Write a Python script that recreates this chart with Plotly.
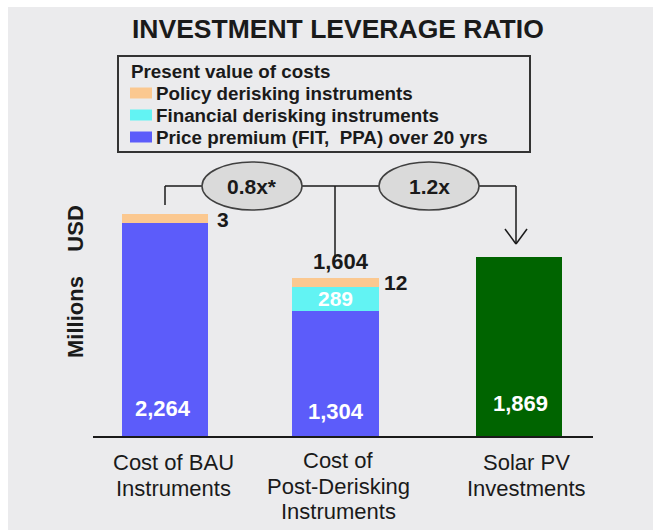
import plotly.graph_objects as go

# ---------------- data ----------------
categories = ["BAU", "Post-Derisking", "Solar PV"]
category_labels = ["Cost of BAU<br>Instruments",
                   "Cost of<br>Post-Derisking<br>Instruments",
                   "Solar PV<br>Investments"]
price_premium = [2264, 1304, None]
financial_derisking = [None, 289, None]
policy_derisking = [3, 12, None]
solar_pv_investments = [None, None, 1869]
post_derisking_total_label = "1,604"
leverage_ratios = ["0.8x*", "1.2x"]
series_names = ["Policy derisking instruments",
                "Financial derisking instruments",
                "Price premium (FIT,  PPA) over 20 yrs"]
legend_title = "Present value of costs"
chart_title = "INVESTMENT LEVERAGE RATIO"
y_title = "Millions\u00a0\u00a0\u00a0\u00a0USD"

# ---------------- style ----------------
W, H = 653, 530
PLOT_L, PLOT_R, PLOT_T, PLOT_B = 93, 593, 60, 436   # page pixels
ML, MR, MT, MB = PLOT_L, W - PLOT_R, PLOT_T, H - PLOT_B
PW, PH = PLOT_R - PLOT_L, PLOT_B - PLOT_T
BLUE, CYAN, ORANGE, GREEN = "#5c5cfa", "#62f3f3", "#fbc890", "#006400"
BG = "#ebebed"
TXT = "#1a1a1a"
FONT = "Liberation Sans, Arial, sans-serif"

PX_PER_CAT = 177.0
X_RANGE = [-(165 - PLOT_L) / PX_PER_CAT, 2 + (PLOT_R - 519) / PX_PER_CAT]
PX_PER_UNIT = 0.096
Y_MAX = PH / PX_PER_UNIT
BAR_W = 86.5 / PX_PER_CAT
MID_SHIFT = -6.5 / PX_PER_CAT
STRIPE = 8
x_shift_px = [0, -6.5, 0]


def px_x(p):
    return (p - PLOT_L) / PW


def px_y(p):
    return (PLOT_B - p) / PH


def offsets(width):
    return [-width / 2, -width / 2 + MID_SHIFT, -width / 2]


fig = go.Figure()
fig.add_bar(x=categories, y=price_premium, name=series_names[2],
            marker=dict(color=BLUE, line=dict(width=0)),
            width=BAR_W, offset=offsets(BAR_W), showlegend=False)
fig.add_bar(x=categories, y=financial_derisking, name=series_names[1],
            marker=dict(color=CYAN, line=dict(width=0)),
            width=BAR_W, offset=offsets(BAR_W), showlegend=False)
ow = BAR_W - STRIPE / PX_PER_CAT
fig.add_bar(x=categories, y=policy_derisking, name=series_names[0],
            marker=dict(color=ORANGE, line=dict(color=ORANGE, width=STRIPE)),
            width=ow, offset=offsets(ow), showlegend=False)
fig.add_bar(x=categories, y=solar_pv_investments, name="Solar PV investments",
            marker=dict(color=GREEN, line=dict(width=0)),
            width=BAR_W, offset=offsets(BAR_W), showlegend=False)

shapes = []
annotations = []

# white frame at left / top of the picture
shapes.append(dict(type="rect", xref="paper", yref="paper", layer="below",
                   x0=px_x(-5), x1=px_x(8), y0=px_y(H + 5), y1=px_y(-5),
                   fillcolor="white", line=dict(width=0)))
shapes.append(dict(type="rect", xref="paper", yref="paper", layer="below",
                   x0=px_x(-5), x1=px_x(W + 5), y0=px_y(7), y1=px_y(-5),
                   fillcolor="white", line=dict(width=0)))

# title
annotations.append(dict(text=f"<b>{chart_title}</b>", xref="paper", yref="paper",
                        x=px_x(337.5), y=px_y(29), xanchor="center", yanchor="middle",
                        showarrow=False, font=dict(size=26.5, color=TXT, family=FONT)))

# y-axis title
annotations.append(dict(text=f"<b>{y_title}</b>", xref="paper", yref="paper",
                        x=px_x(75), y=px_y(282), xanchor="center", yanchor="middle",
                        textangle=-90, showarrow=False,
                        font=dict(size=22, color=TXT, family=FONT)))

# legend box
LEG_FONT = dict(size=18.8, color=TXT, family=FONT)
shapes.append(dict(type="rect", xref="paper", yref="paper",
                   x0=px_x(118), x1=px_x(530), y0=px_y(152), y1=px_y(56),
                   line=dict(color="#333333", width=2), fillcolor="rgba(0,0,0,0)"))
annotations.append(dict(text=f"<b>{legend_title}</b>", xref="paper", yref="paper",
                        x=px_x(129), y=px_y(71), xanchor="left", yanchor="middle",
                        showarrow=False, font=LEG_FONT))
legend_colors = [ORANGE, CYAN, BLUE]
for i, (name, col) in enumerate(zip(series_names, legend_colors)):
    cy = 93 + 22 * i
    shapes.append(dict(type="rect", xref="paper", yref="paper",
                       x0=px_x(130), x1=px_x(152), y0=px_y(cy + 5.5), y1=px_y(cy - 5.5),
                       fillcolor=col, line=dict(width=0)))
    annotations.append(dict(text=f"<b>{name}</b>", xref="paper", yref="paper",
                            x=px_x(154), y=px_y(cy), xanchor="left", yanchor="middle",
                            showarrow=False, font=LEG_FONT))

# connectors
LINE = dict(color="#1a1a1a", width=1.5)
segs = [((165, 205), (165, 186)), ((165, 186), (202, 186)),
        ((302, 186), (379, 186)), ((479, 186), (516, 186)),
        ((516, 186), (516, 243)), ((335, 186), (335, 258)),
        ((505, 229), (516, 244)), ((527, 229), (516, 244))]
for (xa, ya), (xb, yb) in segs:
    shapes.append(dict(type="line", xref="paper", yref="paper",
                       x0=px_x(xa), y0=px_y(ya), x1=px_x(xb), y1=px_y(yb), line=LINE))

# ratio ellipses
for cx, label in zip([252, 429], leverage_ratios):
    shapes.append(dict(type="circle", xref="paper", yref="paper",
                       x0=px_x(cx - 50), x1=px_x(cx + 50), y0=px_y(210), y1=px_y(162),
                       fillcolor="#dadada", line=dict(color="#404040", width=1.5)))
    annotations.append(dict(text=f"<b>{label}</b>", xref="paper", yref="paper",
                            x=px_x(cx), y=px_y(186), xanchor="center", yanchor="middle",
                            showarrow=False, font=dict(size=21, color=TXT, family=FONT)))

# value labels
white_font = dict(size=22, color="white", family=FONT)
black_font = dict(size=21, color=TXT, family=FONT)
bottom_shift = [28, 25, 33]
bottom_xshift = [-2, 0, 1.5]
for i, cat in enumerate(categories):
    base_val = price_premium[i] if price_premium[i] is not None else solar_pv_investments[i]
    annotations.append(dict(text=f"<b>{base_val:,}</b>", x=cat, y=0, xref="x", yref="y",
                            xshift=x_shift_px[i] + bottom_xshift[i], yshift=bottom_shift[i],
                            xanchor="center", yanchor="middle", showarrow=False,
                            font=white_font))
    if financial_derisking[i]:
        annotations.append(dict(text=f"<b>{financial_derisking[i]:,}</b>", x=cat,
                                y=price_premium[i] + financial_derisking[i] / 2,
                                xref="x", yref="y", xshift=x_shift_px[i], yshift=-2,
                                xanchor="center", yanchor="middle", showarrow=False,
                                font=dict(size=21, color="white", family=FONT)))
    if policy_derisking[i] is not None:
        top = sum(v for v in (price_premium[i], financial_derisking[i], policy_derisking[i]) if v)
        extra = 2 if financial_derisking[i] else 0
        annotations.append(dict(text=f"<b>{policy_derisking[i]}</b>", x=cat, y=top,
                                xref="x", yref="y", xshift=x_shift_px[i] + 58 + extra,
                                yshift=-1, xanchor="center", yanchor="middle",
                                showarrow=False, font=black_font))
        if financial_derisking[i]:
            annotations.append(dict(text=f"<b>{post_derisking_total_label}</b>", x=cat, y=top,
                                    xref="x", yref="y", xshift=x_shift_px[i] + 5, yshift=20,
                                    xanchor="center", yanchor="middle", showarrow=False,
                                    font=dict(size=22, color=TXT, family=FONT)))

# category labels (one annotation per line for tight line spacing)
label_shift = [8, -4, 7]
label_first_line = [462.5, 460.5, 462.5]
for cat, lab, dx, y0 in zip(categories, category_labels, label_shift, label_first_line):
    for j, line in enumerate(lab.split("<br>")):
        annotations.append(dict(text=line, x=cat, y=0, xref="x", yref="y", xshift=dx,
                                yshift=-(y0 + 25.5 * j - PLOT_B), xanchor="center",
                                yanchor="middle", showarrow=False,
                                font=dict(size=22, color=TXT, family=FONT)))

fig.update_layout(
    width=W, height=H, autosize=False,
    margin=dict(l=ML, r=MR, t=MT, b=MB, autoexpand=False),
    paper_bgcolor=BG, plot_bgcolor="rgba(0,0,0,0)",
    barmode="stack", bargap=0, showlegend=False,
    font=dict(family=FONT, color=TXT),
    xaxis=dict(type="category", range=X_RANGE, showline=True, linecolor="#1a1a1a",
               linewidth=1.5, showticklabels=False, ticks="", showgrid=False,
               zeroline=False, fixedrange=True),
    yaxis=dict(range=[0, Y_MAX], visible=False, fixedrange=True),
    shapes=shapes, annotations=annotations,
)

fig.write_html("out.html", config={"displayModeBar": False, "responsive": False},
               post_script="document.body.style.margin='0';"
                           "document.documentElement.style.overflow='hidden';")
